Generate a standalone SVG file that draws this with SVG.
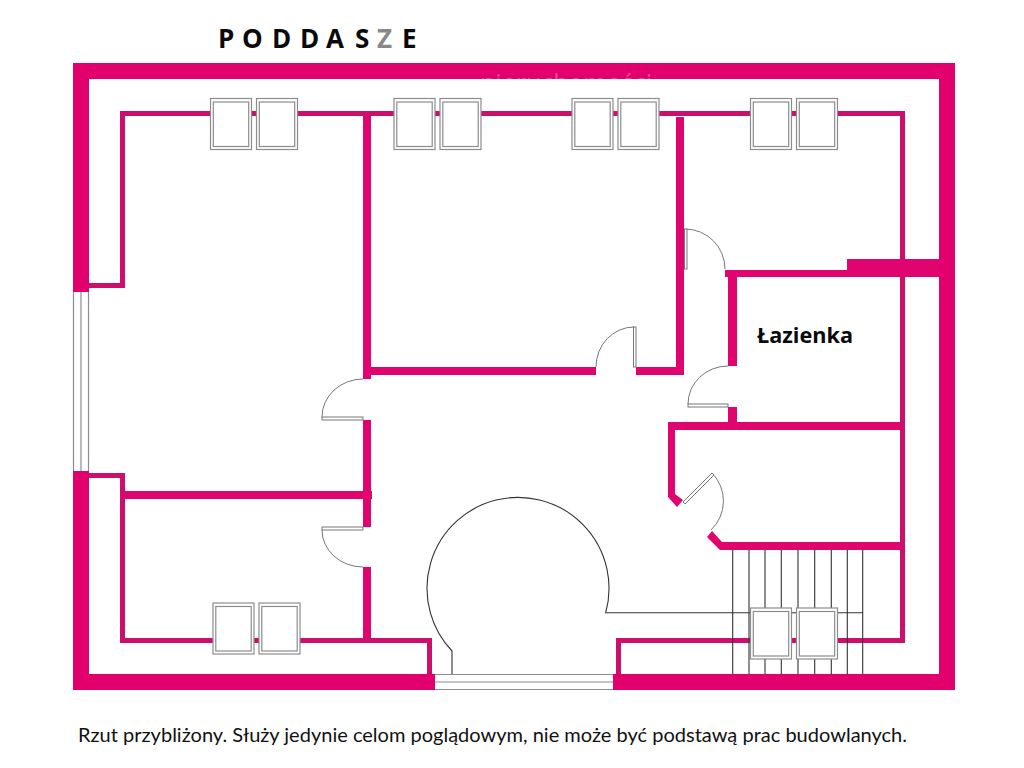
<svg xmlns="http://www.w3.org/2000/svg" width="1024" height="768" viewBox="0 0 1024 768">
<style>
.outer{fill:#e2006e}
.wall{fill:#e0046f}
.thin{fill:#cb0f6b}
.win{fill:#fff;stroke:#8c8c8c;stroke-width:1.2}
.glz{fill:none;stroke:#8c8c8c;stroke-width:1.2}
.door{fill:none;stroke:#777;stroke-width:1}
.leaf{fill:#fff;stroke:#777;stroke-width:1}
.line{fill:none;stroke:#333;stroke-width:1.1}
.t{font-family:"Lato","Open Sans",sans-serif;fill:#111}
.h{font-family:"Open Sans","Lato",sans-serif;fill:#0a0a0a;font-weight:700}
</style>
<defs>
<g id="w"><rect class="win" x="0" y="0" width="41" height="51"/><rect class="glz" x="2.8" y="3.5" width="35.4" height="44.5"/></g>
</defs>
<rect width="1024" height="768" fill="#fff"/>
<g id="outer-walls">
<path class="outer" d="M73 63H955V690H613V674H939V79H89V674H435V690H73V471H89V292H73Z"/>
<text x="480" y="92" font-family="Open Sans,sans-serif" font-size="25" fill="#fff" fill-opacity=".3">nieruchomości</text>
<rect x="89" y="79" width="390" height="30" fill="#fff"/>
<rect x="479" y="79" width="200" height="18" fill="#fff"/>
</g>
<g id="inner-walls">
<path class="thin" d="M89 283H120V111H900V116H125V288H89Z"/>
<path class="thin" d="M900 111H905V643H621V674H616V638H900Z"/>
<path class="thin" d="M89 473H125V638H432V674H427V643H120V478H89Z"/>
<path class="wall" d="M125 491H372V499H125Z"/>
<rect class="wall" x="363" y="115" width="8" height="264"/>
<rect class="wall" x="363" y="420" width="8" height="107"/>
<rect class="wall" x="363" y="567" width="8" height="71"/>
<rect class="wall" x="371" y="367" width="225" height="8"/>
<rect class="wall" x="636" y="367" width="48" height="8"/>
<rect class="wall" x="676" y="117" width="8" height="258"/>
<path class="wall" d="M725 270H847V259H939V277H725Z"/>
<rect class="wall" x="728" y="277" width="9" height="89"/>
<rect class="wall" x="728" y="407" width="9" height="16"/>
<path class="wall" d="M668 422H900V430H675V494L683 500L677 507L668 497Z"/>
<path class="wall" d="M707 537L712 531L722 542H900V550H720Z"/>
</g>
<g id="doors">
<g id="door-1"><path class="door" d="M322 417A41 38 0 0 1 363 379"/><rect class="leaf" x="322" y="417" width="41" height="3"/></g>
<g id="door-2"><path class="door" d="M322 530A41 37 0 0 0 363 567"/><rect class="leaf" x="322" y="527" width="41" height="3"/></g>
<g id="door-3"><path class="door" d="M634 327A38 40 0 0 0 596 367"/><rect class="leaf" x="633.500" y="327" width="2.500" height="40"/></g>
<g id="door-4"><path class="door" d="M685 229A40 40 0 0 1 725 269"/><rect class="leaf" x="684.500" y="229" width="2.500" height="40"/></g>
<g id="door-5"><path class="door" d="M728 366A40 38 0 0 0 688 404"/><rect class="leaf" x="688" y="404" width="40" height="3"/></g>
<g id="door-6"><path class="door" d="M712 473A40 40 0 0 1 711 530"/><path class="leaf" d="M712 473L714 475L685 504L683 502Z"/></g>
</g>
<g id="stairs">
<path class="line" d="M452 674V651A91 91 0 1 1 605.700 612.700H863"/>
<path class="line" d="M732.700 550V674.500M749 550V674.500M765 550V674.500M781.300 550V674.500M798 550V674.500M814.700 550V674.500M831.300 550V674.500M847.300 550V674.500M862.700 550V674.500"/>
</g>
<g id="glazing">
<g id="window-west"><path class="win" d="M73.500 292V471M81 292V471M88.500 292V471" style="fill:none"/></g>
<g id="door-south"><path class="win" d="M435 674.500H613M435 682H613M435 689.500H613" style="fill:none"/></g>
<use id="w1" href="#w" x="210.500" y="98.500"/>
<use id="w2" href="#w" x="256.500" y="98.500"/>
<use id="w3" href="#w" x="394" y="98.500"/>
<use id="w4" href="#w" x="440" y="98.500"/>
<use id="w5" href="#w" x="572" y="98.500"/>
<use id="w6" href="#w" x="618" y="98.500"/>
<use id="w7" href="#w" x="750.500" y="98.500"/>
<use id="w8" href="#w" x="796.500" y="98.500"/>
<use id="w9" href="#w" x="213" y="603"/>
<use id="w10" href="#w" x="259" y="603"/>
<use id="w11" href="#w" x="750.500" y="608"/>
<use id="w12" href="#w" x="796.500" y="608"/>
</g>
<g id="labels">
<text class="h" x="218 242 272 300 326 355 377 402" y="48" font-size="26">P<tspan>O</tspan><tspan>D</tspan><tspan>D</tspan><tspan>A</tspan><tspan>S</tspan><tspan fill="#888">Z</tspan><tspan>E</tspan></text>
<text class="h" x="757" y="343" font-size="22" textLength="96" lengthAdjust="spacingAndGlyphs">Łazienka</text>
<text class="t" x="78" y="741.500" font-size="19" fill="#222" textLength="829" lengthAdjust="spacingAndGlyphs">Rzut przybliżony. Służy jedynie celom poglądowym, nie może być podstawą prac budowlanych.</text>
</g>
</svg>
